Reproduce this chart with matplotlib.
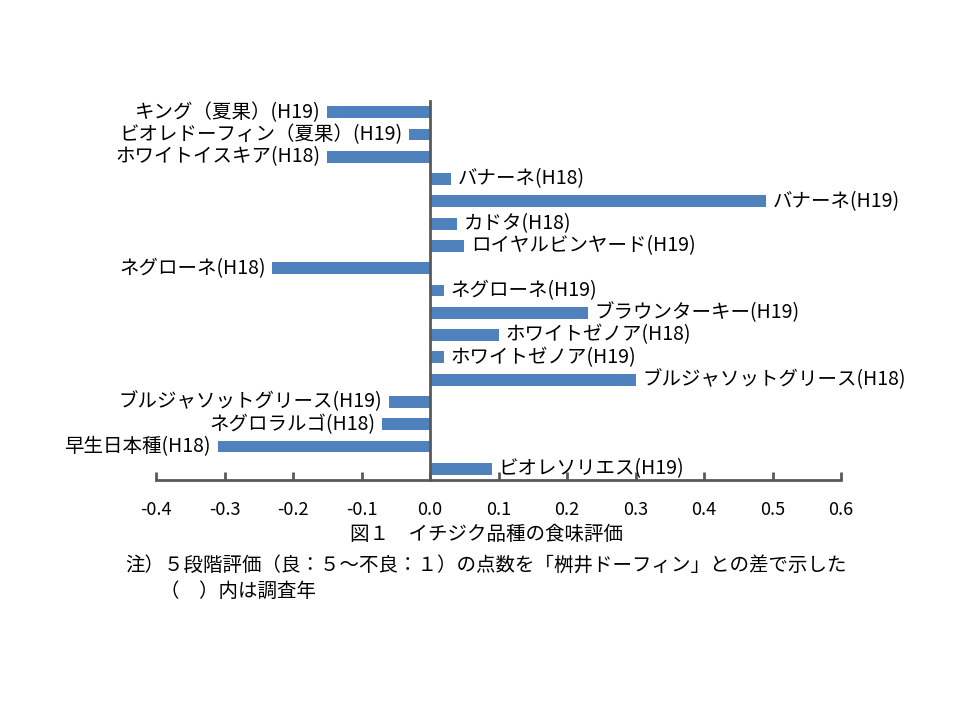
import matplotlib
matplotlib.use("Agg")
import matplotlib.pyplot as plt

plt.rcParams['font.family'] = ['Noto Sans CJK JP', 'DejaVu Sans']

categories = [
    "キング（夏果）(H19)",
    "ビオレドーフィン（夏果）(H19)",
    "ホワイトイスキア(H18)",
    "バナーネ(H18)",
    "バナーネ(H19)",
    "カドタ(H18)",
    "ロイヤルビンヤード(H19)",
    "ネグローネ(H18)",
    "ネグローネ(H19)",
    "ブラウンターキー(H19)",
    "ホワイトゼノア(H18)",
    "ホワイトゼノア(H19)",
    "ブルジャソットグリース(H18)",
    "ブルジャソットグリース(H19)",
    "ネグロラルゴ(H18)",
    "早生日本種(H18)",
    "ビオレソリエス(H19)",
]
values = [-0.15, -0.03, -0.15, 0.03, 0.49, 0.04, 0.05, -0.23, 0.02, 0.23,
          0.10, 0.02, 0.30, -0.06, -0.07, -0.31, 0.09]
xticks = [-0.4, -0.3, -0.2, -0.1, 0.0, 0.1, 0.2, 0.3, 0.4, 0.5, 0.6]
caption = "図１　イチジク品種の食味評価"
note1 = "注）５段階評価（良：５～不良：１）の点数を「桝井ドーフィン」との差で示した"
note2 = "（　）内は調査年"

fig = plt.figure(figsize=(9.6, 7.2), dpi=100)
ax = fig.add_axes([156/960, 1-480/720, 685/960, 379/720])

bar_color = "#4F81BD"
axis_color = "#595959"
ypos = list(range(len(categories)))
ax.barh(ypos, values, height=0.53, color=bar_color, zorder=2)
ax.set_ylim(len(categories) - 0.5, -0.5)
ax.set_xlim(-0.4, 0.6)

for y, v, lab in zip(ypos, values, categories):
    if v >= 0:
        ax.annotate(lab, xy=(v, y), xytext=(5, 0), textcoords="offset points",
                    ha="left", va="center", fontsize=14, color="black")
    else:
        ax.annotate(lab, xy=(v, y), xytext=(-5, 0), textcoords="offset points",
                    ha="right", va="center", fontsize=14, color="black")

for s in ["top", "right"]:
    ax.spines[s].set_visible(False)
ax.spines["left"].set_position(("data", 0))
ax.spines["left"].set_color(axis_color)
ax.spines["left"].set_linewidth(2)
ax.spines["bottom"].set_color(axis_color)
ax.spines["bottom"].set_linewidth(2)
ax.set_yticks([])
ax.set_xticks(xticks)
ax.set_xticklabels([f"{t:.1f}" for t in xticks], fontsize=13)
ax.tick_params(axis="x", direction="in", length=6, width=2, color=axis_color, pad=15)

fig.text(486/960, 1-535/720, caption, ha="center", va="center", fontsize=14)
fig.text(125/960, 1-565/720, note1, ha="left", va="center", fontsize=14)
fig.text(160/960, 1-591/720, note2, ha="left", va="center", fontsize=14)

fig.savefig("out.png", dpi=100)
